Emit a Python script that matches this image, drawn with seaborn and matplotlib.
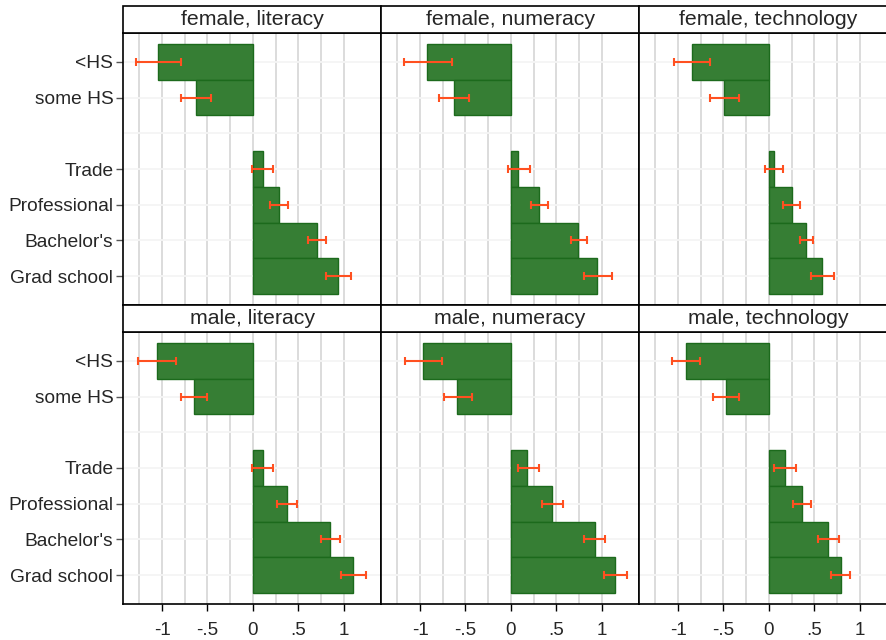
import numpy as np
import pandas as pd
import matplotlib
matplotlib.use("Agg")
import matplotlib.pyplot as plt
from matplotlib.patches import Rectangle
import seaborn as sns

# education levels (blank slot = gap between the two groups)
edu_order = ["<HS", "some HS", " ", "Trade", "Professional", "Bachelor's", "Grad school"]
edu_levels = ["<HS", "some HS", "Trade", "Professional", "Bachelor's", "Grad school"]
sexes = ["female", "male"]
skills = ["literacy", "numeracy", "technology"]

# estimates and interval bounds, one list per panel
f_lit_est = [-1.04, -0.63, 0.11, 0.29, 0.71, 0.94]
f_lit_lo = [-1.29, -0.79, -0.01, 0.19, 0.61, 0.81]
f_lit_hi = [-0.79, -0.46, 0.22, 0.39, 0.80, 1.08]

f_num_est = [-0.92, -0.63, 0.08, 0.31, 0.74, 0.95]
f_num_lo = [-1.18, -0.79, -0.03, 0.22, 0.66, 0.80]
f_num_hi = [-0.65, -0.46, 0.21, 0.41, 0.84, 1.11]

f_tech_est = [-0.85, -0.49, 0.06, 0.25, 0.41, 0.58]
f_tech_lo = [-1.04, -0.65, -0.04, 0.15, 0.34, 0.46]
f_tech_hi = [-0.65, -0.33, 0.15, 0.34, 0.49, 0.72]

m_lit_est = [-1.06, -0.65, 0.11, 0.37, 0.85, 1.10]
m_lit_lo = [-1.27, -0.79, -0.01, 0.26, 0.75, 0.97]
m_lit_hi = [-0.85, -0.50, 0.22, 0.48, 0.96, 1.25]

m_num_est = [-0.97, -0.59, 0.18, 0.45, 0.93, 1.15]
m_num_lo = [-1.17, -0.74, 0.08, 0.34, 0.81, 1.02]
m_num_hi = [-0.76, -0.43, 0.31, 0.57, 1.04, 1.28]

m_tech_est = [-0.91, -0.47, 0.18, 0.36, 0.65, 0.79]
m_tech_lo = [-1.07, -0.61, 0.06, 0.26, 0.54, 0.68]
m_tech_hi = [-0.76, -0.33, 0.30, 0.46, 0.77, 0.89]

panels = {
    ("female", "literacy"): (f_lit_est, f_lit_lo, f_lit_hi),
    ("female", "numeracy"): (f_num_est, f_num_lo, f_num_hi),
    ("female", "technology"): (f_tech_est, f_tech_lo, f_tech_hi),
    ("male", "literacy"): (m_lit_est, m_lit_lo, m_lit_hi),
    ("male", "numeracy"): (m_num_est, m_num_lo, m_num_hi),
    ("male", "technology"): (m_tech_est, m_tech_lo, m_tech_hi),
}

rows = []
for (sex, skill), (est, lo, hi) in panels.items():
    for e, v, l, h in zip(edu_levels, est, lo, hi):
        rows.append(dict(sex=sex, skill=skill, edu=e, est=v, lo=l, hi=h))
df = pd.DataFrame(rows)

sns.set_style("white")
plt.rcParams["font.family"] = ["Liberation Sans", "DejaVu Sans"]

bar_color = "#367e34"
edge_color = "#1c6a1c"
err_color = "#ff5020"

W, H = 886, 640
fig = plt.figure(figsize=(W / 100, H / 100), dpi=100)

left_px = 123
pw = 258          # panel width
ph = 272          # plot height
sh = 27           # strip height
tops = [33, 332]  # top of plot area for each row

for r, sex in enumerate(sexes):
    for c, skill in enumerate(skills):
        x0 = (left_px + c * pw) / W
        y0 = 1 - (tops[r] + ph) / H
        ax = fig.add_axes([x0, y0, pw / W, ph / H])
        sub = df[(df.sex == sex) & (df.skill == skill)]

        for gx in np.arange(-1.25, 1.01, 0.25):
            ax.axvline(gx, color="#d9d9d9", lw=1.3, zorder=0.5)
        for gy in range(len(edu_order)):
            ax.axhline(gy, color="#f5f5f5", lw=1.3, zorder=0.6)

        sns.barplot(data=sub, x="est", y="edu", order=edu_order, orient="h",
                    color=bar_color, saturation=1, width=1, errorbar=None,
                    edgecolor=edge_color, linewidth=1, ax=ax, zorder=2)

        pos = [edu_order.index(e) for e in sub.edu]
        ax.errorbar(sub.est, pos, xerr=[sub.est - sub.lo, sub.hi - sub.est],
                    fmt="none", ecolor=err_color, elinewidth=1.5,
                    capsize=2.8, capthick=1.5, zorder=3)

        ax.set_xlim(-1.43, 1.41)
        ax.set_ylim(6.81, -0.81)
        ax.set_xlabel("")
        ax.set_ylabel("")

        for s in ax.spines.values():
            s.set_color("black")
            s.set_linewidth(1.2)

        ytick_pos = [edu_order.index(e) for e in edu_levels]
        ax.set_yticks(ytick_pos)
        if c == 0:
            ax.set_yticklabels(edu_levels, fontsize=13.8)
            ax.tick_params(axis="y", length=5, width=1, color="#555555",
                           pad=2, left=True)
        else:
            ax.set_yticklabels([])
            ax.tick_params(axis="y", length=0)

        ax.set_xticks([-1, -0.5, 0, 0.5, 1])
        if r == 1:
            ax.set_xticklabels(["-1", "-.5", "0", ".5", "1"], fontsize=13.5)
            ax.tick_params(axis="x", length=5, width=1, color="black",
                           pad=8, bottom=True)
        else:
            ax.set_xticklabels([])
            ax.tick_params(axis="x", length=0)

        # facet strip
        strip = Rectangle((0, 1), 1, sh / ph, transform=ax.transAxes,
                          facecolor="white", edgecolor="black", lw=1.2,
                          clip_on=False, zorder=5)
        ax.add_patch(strip)
        ax.text(0.5, 1 + sh / ph / 2, f"{sex}, {skill}", transform=ax.transAxes,
                ha="center", va="center", fontsize=15.3, zorder=6)

fig.savefig("out.png", dpi=100, facecolor="white")
